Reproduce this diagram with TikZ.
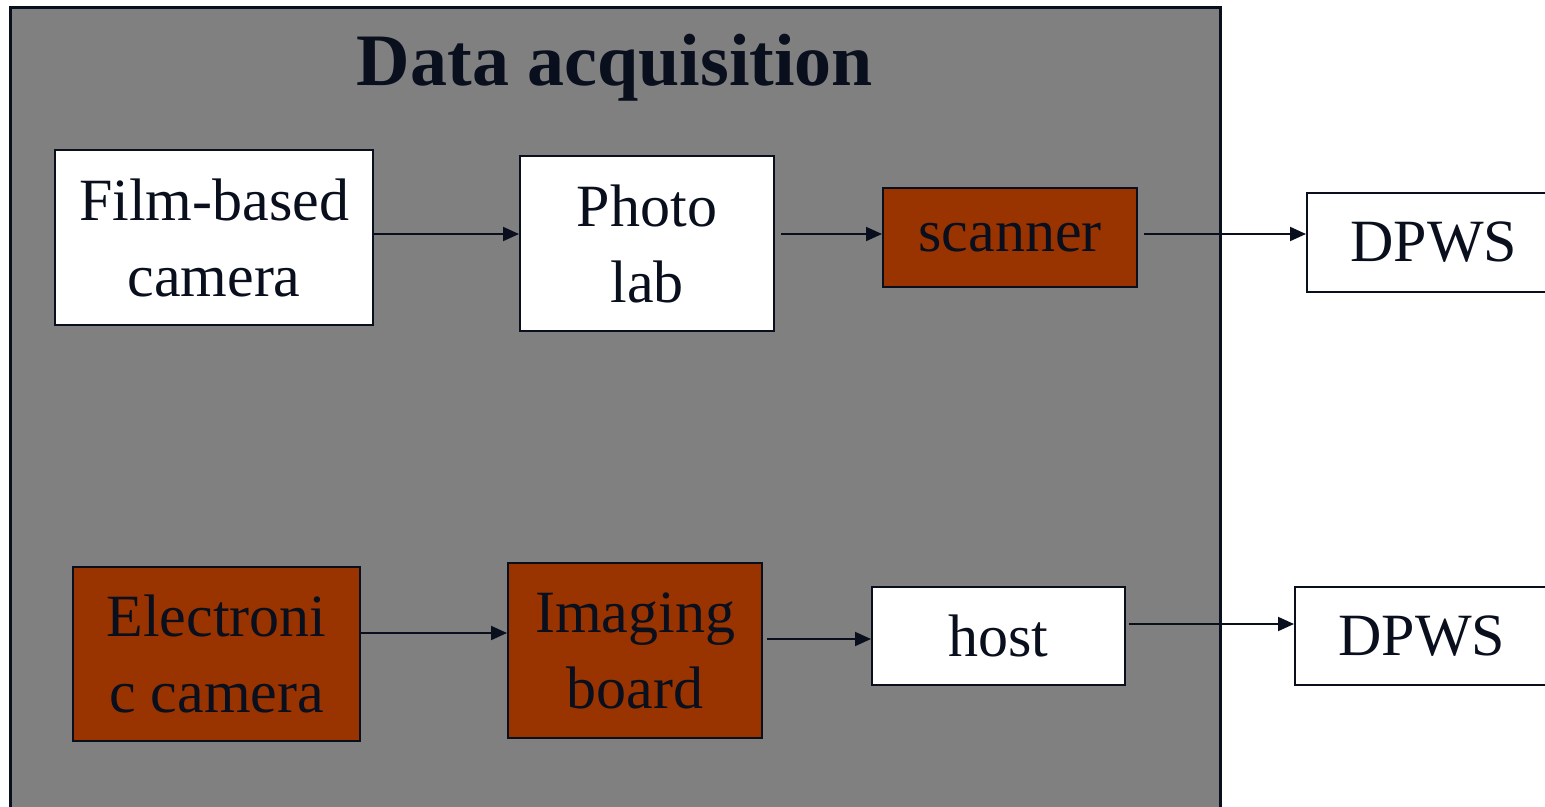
\documentclass[tikz,border=0pt]{standalone}
\usepackage{fontspec}
\setmainfont{Liberation Serif}
\usetikzlibrary{arrows.meta}
\definecolor{ink}{HTML}{0A0F1E}
\definecolor{panel}{HTML}{808080}
\definecolor{brick}{HTML}{993300}
\begin{document}
\begin{tikzpicture}[x=1pt,y=-1pt,
  box/.style={draw=ink,line width=2pt,text=ink,inner sep=0pt,align=center,
    font=\fontsize{60}{76}\selectfont},
  whitebox/.style={box,fill=white},
  brickbox/.style={box,fill=brick},
  flow/.style={draw=ink,line width=2pt,-{Triangle[length=16pt,width=14pt]}}]
\useasboundingbox (0,0) rectangle (1545,806);
\clip (0,0) rectangle (1545,806);
\fill[white] (0,0) rectangle (1545,806);
\draw[fill=panel,draw=ink,line width=3pt] (10,7) rectangle (1220,840);
\node[text=ink,font=\fontsize{74}{86}\selectfont\bfseries] (title) at (615,68) {Data acquisition};
\node[whitebox,minimum width=318pt,minimum height=175pt] (film) at (214,237.5) {Film-based\\camera};
\node[whitebox,minimum width=254pt,minimum height=175pt] (photo) at (647,243.5) {Photo\\lab};
\node[brickbox,minimum width=254pt,minimum height=99pt] (scanner) at (1010,237.5) {scanner};
\node[whitebox,minimum width=254pt,minimum height=99pt] (dpwsa) at (1434,242.5) {DPWS};
\node[brickbox,minimum width=287pt,minimum height=174pt] (elec) at (216.5,654) {Electroni\\c camera};
\node[brickbox,minimum width=254pt,minimum height=175pt] (imaging) at (635,650.5) {Imaging\\board};
\node[whitebox,minimum width=253pt,minimum height=98pt] (host) at (998.5,636) {host};
\node[whitebox,minimum width=254pt,minimum height=98pt] (dpwsb) at (1422,636) {DPWS};
\draw[flow] ([yshift=3.5pt]film.east) -- ([yshift=3.5pt]film.east -| photo.west);
\draw[flow,shorten <=6pt] ([yshift=3.5pt]photo.east |- scanner.west) -- ([yshift=3.5pt]scanner.west);
\draw[flow,shorten <=6pt] ([yshift=3.5pt]scanner.east) -- ([yshift=3.5pt]scanner.east -| dpwsa.west);
\draw[flow] ([yshift=21pt]elec.east) -- ([yshift=21pt]elec.east -| imaging.west);
\draw[flow,shorten <=4pt] ([yshift=-3pt]imaging.east |- host.west) -- ([yshift=-3pt]host.west);
\draw[flow,shorten <=3pt] ([yshift=12pt]host.east) -- ([yshift=12pt]host.east -| dpwsb.west);
\end{tikzpicture}
\end{document}
